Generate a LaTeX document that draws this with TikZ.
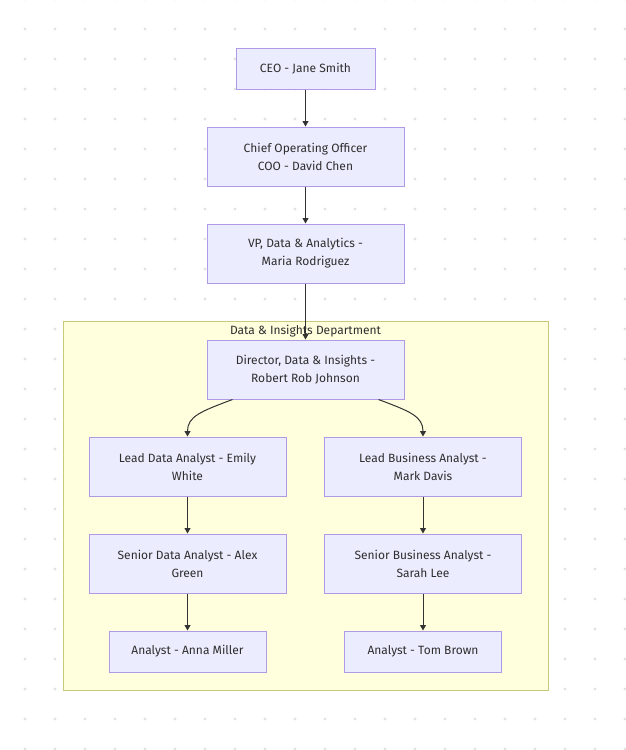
\documentclass[tikz,border=0pt]{standalone}
\usepackage{fontspec}
\setmainfont{Fira Sans}
\usetikzlibrary{arrows.meta}
\definecolor{nodefill}{HTML}{ECECFF}
\definecolor{nodeline}{HTML}{B09AE6}
\definecolor{clusterfill}{HTML}{FFFFDE}
\definecolor{clusterline}{HTML}{C9C97A}
\definecolor{edgecol}{HTML}{333333}
\definecolor{txt}{HTML}{2E2E2E}
\definecolor{dotcol}{HTML}{E2E2E2}

\begin{document}
\begin{tikzpicture}[x=1pt, y=-1pt,
  role/.style={draw=nodeline, fill=nodefill, line width=1pt, inner sep=0pt,
    text=txt, font=\fontsize{12}{18}\selectfont, align=center},
  wide/.style={role, minimum width=197pt, minimum height=59pt},
  small/.style={role, minimum width=157pt, minimum height=41pt},
  top/.style={role, minimum width=139pt, minimum height=41pt},
  cluster/.style={draw=clusterline, fill=clusterfill, line width=1pt, inner sep=0pt},
  caption/.style={text=txt, font=\fontsize{12}{18}\selectfont, inner sep=0pt},
  link/.style={draw=edgecol, line width=1pt, -{Triangle[length=5.5pt,width=6pt]}}
]
\useasboundingbox (0,0) rectangle (626,750);
\fill[white] (0,0) rectangle (626,750);

% dotted background grid
\foreach \i in {0,...,20}
  \foreach \j in {0,...,25}
    \fill[dotcol] (25+30*\i, -1+30*\j) circle (1.6pt);

% department cluster
\node[cluster, minimum width=485pt, minimum height=369pt] (dept) at (305.5,506) {};
\node[caption] (deptlabel) at (305.5,331) {Data \& Insights Department};

% people
\node[top]  (ceo) at (305.5,68.5)  {CEO - Jane Smith};
\node[wide] (coo) at (305.5,156.5) {Chief Operating Officer\\COO - David Chen};
\node[wide] (vp)  at (305.5,253.5) {VP, Data \& Analytics -\\Maria Rodriguez};
\node[wide] (dir) at (305.5,369.5) {Director, Data \& Insights -\\Robert Rob Johnson};
\node[wide] (lda) at (187.5,466.5) {Lead Data Analyst - Emily\\White};
\node[wide] (lba) at (423,466.5)   {Lead Business Analyst -\\Mark Davis};
\node[wide] (sda) at (187.5,563.5) {Senior Data Analyst - Alex\\Green};
\node[wide] (sba) at (423,563.5)   {Senior Business Analyst -\\Sarah Lee};
\node[small] (ana) at (187.5,651.5) {Analyst - Anna Miller};
\node[small] (ant) at (423,651.5)   {Analyst - Tom Brown};

% reporting lines
\draw[link] (ceo.south) -- (coo.north);
\draw[link] (coo.south) -- (vp.north);
\draw[link] (vp.south) -- (dir.north);
\draw[link] ([xshift=-73pt]dir.south) .. controls +(-32,12) and +(0,-20) .. (lda.north);
\draw[link] ([xshift=73pt]dir.south) .. controls +(32,12) and +(0,-20) .. (lba.north);
\draw[link] (lda.south) -- (sda.north);
\draw[link] (lba.south) -- (sba.north);
\draw[link] (sda.south) -- (ana.north);
\draw[link] (sba.south) -- (ant.north);
\end{tikzpicture}
\end{document}
